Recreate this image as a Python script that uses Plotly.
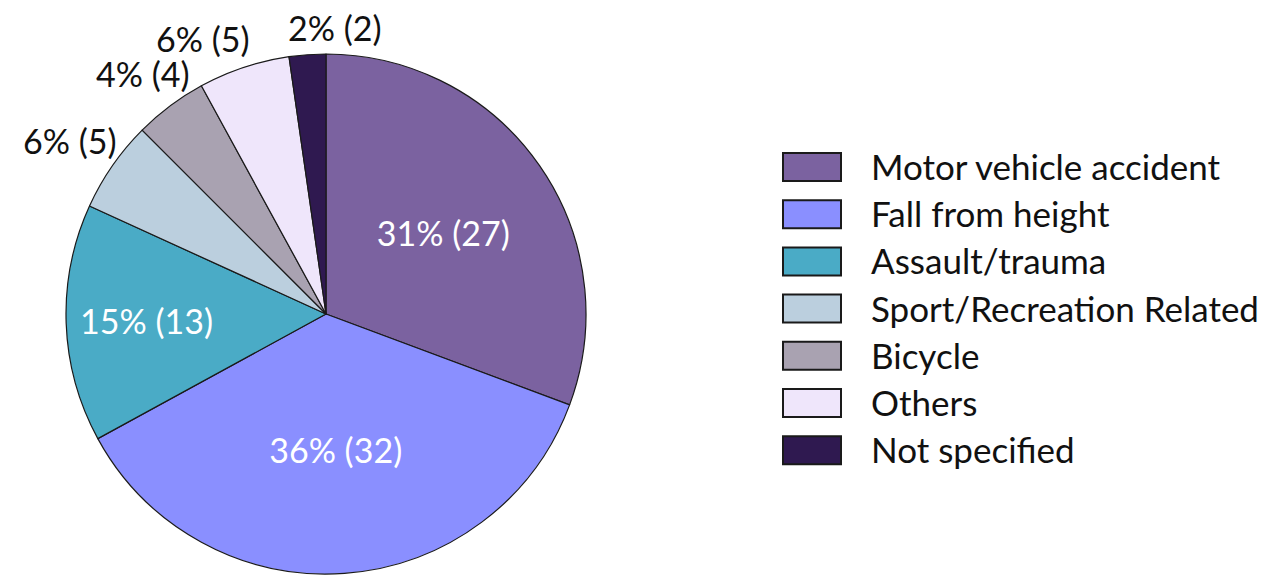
import math
import plotly.graph_objects as go

categories = ["Motor vehicle accident", "Fall from height", "Assault/trauma",
              "Sport/Recreation Related", "Bicycle", "Others", "Not specified"]
counts = [27, 32, 13, 5, 4, 5, 2]
percents = [31, 36, 15, 6, 4, 6, 2]
colors = ["#7B62A0", "#8A8FFF", "#4AABC6", "#BBCFDE", "#A9A2B1", "#EFE6FB", "#2F1950"]

W, H = 1276, 575
FONT = "Lato"
FS = 34
LFS = 35

# pie geometry (pixels)
CX, CY, R = 326, 314, 260

labels_text = [f"{p}% ({c})" for p, c in zip(percents, counts)]
positions = ["inside" if p >= 10 else "none" for p in percents]

fig = go.Figure()
fig.add_trace(go.Pie(
    labels=categories, values=counts, text=labels_text,
    textinfo="text", textposition=positions,
    insidetextorientation="horizontal",
    insidetextfont=dict(color="white", size=FS, family=FONT),
    marker=dict(colors=colors, line=dict(color="#1a1a1a", width=1.2)),
    sort=False, direction="clockwise", rotation=0,
    domain=dict(x=[(CX - R) / W, (CX + R) / W], y=[1 - (CY + R) / H, 1 - (CY - R) / H]),
    showlegend=False, hoverinfo="label+value",
))

# outside labels for the small slices, placed at the slice mid-angle
total = sum(counts)
cum = 0
boxes = []
for i, c in enumerate(counts):
    mid = math.radians((cum + c / 2) / total * 360)
    cum += c
    if positions[i] != "none":
        continue
    w = 0.45 * FS * len(labels_text[i])
    h = FS
    r = R + 4 + 0.5 * (w * abs(math.sin(mid)) + h * abs(math.cos(mid)))
    boxes.append([i, CX + r * math.sin(mid), CY - r * math.cos(mid) + 4, w, h])

# simple overlap resolution between neighbouring labels
boxes.sort(key=lambda b: b[2], reverse=True)  # from lowest to highest
for a, b in zip(boxes, boxes[1:]):
    if abs(a[2] - b[2]) < (a[4] + b[4]) / 2:
        ov = (a[3] + b[3]) / 2 - abs(a[1] - b[1])
        if ov > -40:
            shift = (ov + 40) / 2
            a[1] -= shift
            b[1] += shift
            b[2] -= 0.25 * shift

for i, x, y, w, h in boxes:
    fig.add_annotation(xref="paper", yref="paper", x=x / W, y=1 - y / H,
                       text=labels_text[i], showarrow=False,
                       xanchor="center", yanchor="middle",
                       font=dict(size=FS, color="#111111", family=FONT))

# custom legend with wide swatches (computed from the category list)
box_x0, box_x1 = 783, 841
y0, step, bh = 167, 47.2, 28
for i, (cat, col) in enumerate(zip(categories, colors)):
    yc = y0 + i * step
    fig.add_shape(type="rect", xref="paper", yref="paper",
                  x0=box_x0 / W, x1=box_x1 / W,
                  y0=1 - (yc - bh / 2) / H, y1=1 - (yc + bh / 2) / H,
                  fillcolor=col, line=dict(color="#1a1a1a", width=2))
    fig.add_annotation(xref="paper", yref="paper", x=869 / W, y=1 - (yc - 1) / H,
                       text=cat, showarrow=False, xanchor="left", yanchor="middle",
                       font=dict(size=LFS, color="#111111", family=FONT))

fig.update_layout(width=W, height=H, margin=dict(l=0, r=0, t=0, b=0),
                  paper_bgcolor="white", plot_bgcolor="white",
                  font=dict(family=FONT))
fig.write_html("out.html", config={"displayModeBar": False},
               post_script="document.body.style.margin='0';")
